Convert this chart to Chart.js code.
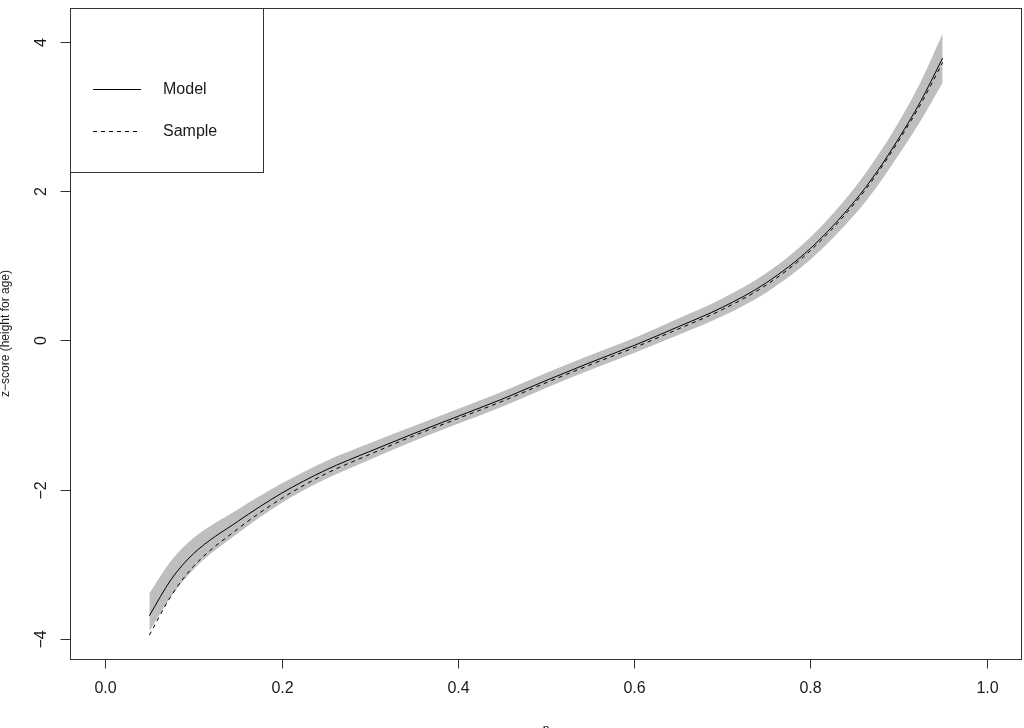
<!DOCTYPE html>
<html>
<head>
<meta charset="utf-8">
<script src="https://cdn.jsdelivr.net/npm/chart.js@4"></script>
<style>
  html, body { margin: 0; padding: 0; background: #fff; }
  canvas { display: block; }
</style>
</head>
<body>
<canvas id="zChart" width="1024" height="728"></canvas>
<script>
// ======================= Data =======================
const probs = [0.05, 0.075, 0.1, 0.15, 0.2, 0.25, 0.3, 0.35, 0.4, 0.45, 0.5,
               0.55, 0.6, 0.65, 0.7, 0.75, 0.8, 0.85, 0.875, 0.9, 0.925, 0.95];
const modelZ  = [-3.69, -3.20, -2.86, -2.43, -2.05, -1.74, -1.49, -1.25, -1.02, -0.79, -0.54,
                 -0.30, -0.07, 0.18, 0.44, 0.77, 1.23, 1.86, 2.25, 2.70, 3.20, 3.78];
const sampleZ = [-3.95, -3.42, -3.03, -2.53, -2.12, -1.79, -1.53, -1.28, -1.05, -0.82, -0.57,
                 -0.33, -0.10, 0.15, 0.41, 0.74, 1.20, 1.83, 2.22, 2.67, 3.16, 3.72];
const bandUpper = [-3.39, -2.95, -2.65, -2.27, -1.92, -1.62, -1.38, -1.15, -0.92, -0.69, -0.44,
                   -0.20, 0.03, 0.29, 0.56, 0.90, 1.38, 2.04, 2.45, 2.92, 3.46, 4.11];
const bandLower = [-3.90, -3.43, -3.07, -2.59, -2.18, -1.86, -1.60, -1.35, -1.12, -0.89, -0.64,
                   -0.40, -0.17, 0.07, 0.32, 0.64, 1.08, 1.68, 2.05, 2.48, 2.94, 3.45];

const xTicks = [0, 0.2, 0.4, 0.6, 0.8, 1.0];
const xTickLabels = ["0.0", "0.2", "0.4", "0.6", "0.8", "1.0"];
const yTicks = [-4, -2, 0, 2, 4];
const yTickLabels = ["\u22124", "\u22122", "0", "2", "4"];
const legendLabels = ["Model", "Sample"];
const yTitle = "z\u2212score (height for age)";
const xTitle = "p";

const toPoints = arr => arr.map((v, i) => ({ x: probs[i], y: v }));

// ======================= R-style axes / legend =======================
const FONT = '"Liberation Sans", Arial, sans-serif';
const INK = "#333";

const rAxes = {
    id: "rAxes",
    afterDraw(chart) {
        const { ctx, chartArea: a, scales: { x, y } } = chart;
        ctx.save();
        ctx.strokeStyle = INK;
        ctx.lineWidth = 1;

        // frame
        ctx.strokeRect(Math.round(a.left) + 0.5, Math.round(a.top) + 0.5,
                       Math.round(a.right - a.left) - 1, Math.round(a.bottom - a.top));

        // x axis ticks + labels
        ctx.fillStyle = "#1a1a1a";
        ctx.font = `16px ${FONT}`;
        ctx.textAlign = "center";
        ctx.textBaseline = "middle";
        const yb = Math.round(a.bottom) + 0.5;
        xTicks.forEach((t, i) => {
            const px = Math.round(x.getPixelForValue(t)) + 0.5;
            ctx.beginPath();
            ctx.moveTo(px, yb);
            ctx.lineTo(px, yb + 9);
            ctx.stroke();
            ctx.fillText(xTickLabels[i], px, 689);
        });

        // y axis ticks + rotated labels
        const xl = Math.round(a.left) + 0.5;
        yTicks.forEach((t, i) => {
            const py = Math.round(y.getPixelForValue(t)) + 0.5;
            ctx.beginPath();
            ctx.moveTo(xl, py);
            ctx.lineTo(xl - 10, py);
            ctx.stroke();
            ctx.save();
            ctx.translate(42, py);
            ctx.rotate(-Math.PI / 2);
            ctx.fillText(yTickLabels[i], 0, 0);
            ctx.restore();
        });

        // axis titles
        ctx.font = `12px ${FONT}`;
        ctx.save();
        ctx.translate(6, (a.top + a.bottom) / 2);
        ctx.rotate(-Math.PI / 2);
        ctx.fillText(yTitle, 0, 0);
        ctx.restore();
        ctx.textBaseline = "top";
        ctx.fillText(xTitle, (a.left + a.right) / 2, 724);

        // legend box
        ctx.strokeRect(xl, Math.round(a.top) + 0.5, 193, 164);
        ctx.font = `16px ${FONT}`;
        ctx.textAlign = "left";
        ctx.textBaseline = "middle";
        const rows = [89, 131];
        rows.forEach((ly, i) => {
            ctx.strokeStyle = "#000";
            ctx.setLineDash(i === 0 ? [] : [4, 4]);
            ctx.beginPath();
            ctx.moveTo(93, ly + 0.5);
            ctx.lineTo(141, ly + 0.5);
            ctx.stroke();
            ctx.setLineDash([]);
            ctx.fillText(legendLabels[i], 163, ly + 1);
        });
        ctx.restore();
    }
};

// ======================= Chart =======================
new Chart(document.getElementById("zChart"), {
    type: "line",
    data: {
        datasets: [
            {
                label: legendLabels[0],
                data: toPoints(modelZ),
                borderColor: "#000",
                borderWidth: 1,
                pointRadius: 0,
                cubicInterpolationMode: "monotone",
                fill: false
            },
            {
                label: legendLabels[1],
                data: toPoints(sampleZ),
                borderColor: "#000",
                borderWidth: 1,
                borderDash: [4, 4],
                pointRadius: 0,
                cubicInterpolationMode: "monotone",
                fill: false
            },
            {
                label: "upper",
                data: toPoints(bandUpper),
                borderWidth: 0,
                borderColor: "rgba(0,0,0,0)",
                backgroundColor: "#bebebe",
                pointRadius: 0,
                cubicInterpolationMode: "monotone",
                fill: "+1"
            },
            {
                label: "lower",
                data: toPoints(bandLower),
                borderWidth: 0,
                borderColor: "rgba(0,0,0,0)",
                pointRadius: 0,
                cubicInterpolationMode: "monotone",
                fill: false
            }
        ]
    },
    options: {
        responsive: false,
        animation: false,
        layout: { padding: { left: 70, right: 2, top: 8, bottom: 69 } },
        plugins: {
            legend: { display: false },
            tooltip: { enabled: false }
        },
        scales: {
            x: { type: "linear", display: false, min: -0.04, max: 1.04 },
            y: { type: "linear", display: false, min: -4.27, max: 4.45 }
        }
    },
    plugins: [rAxes]
});
</script>
</body>
</html>
